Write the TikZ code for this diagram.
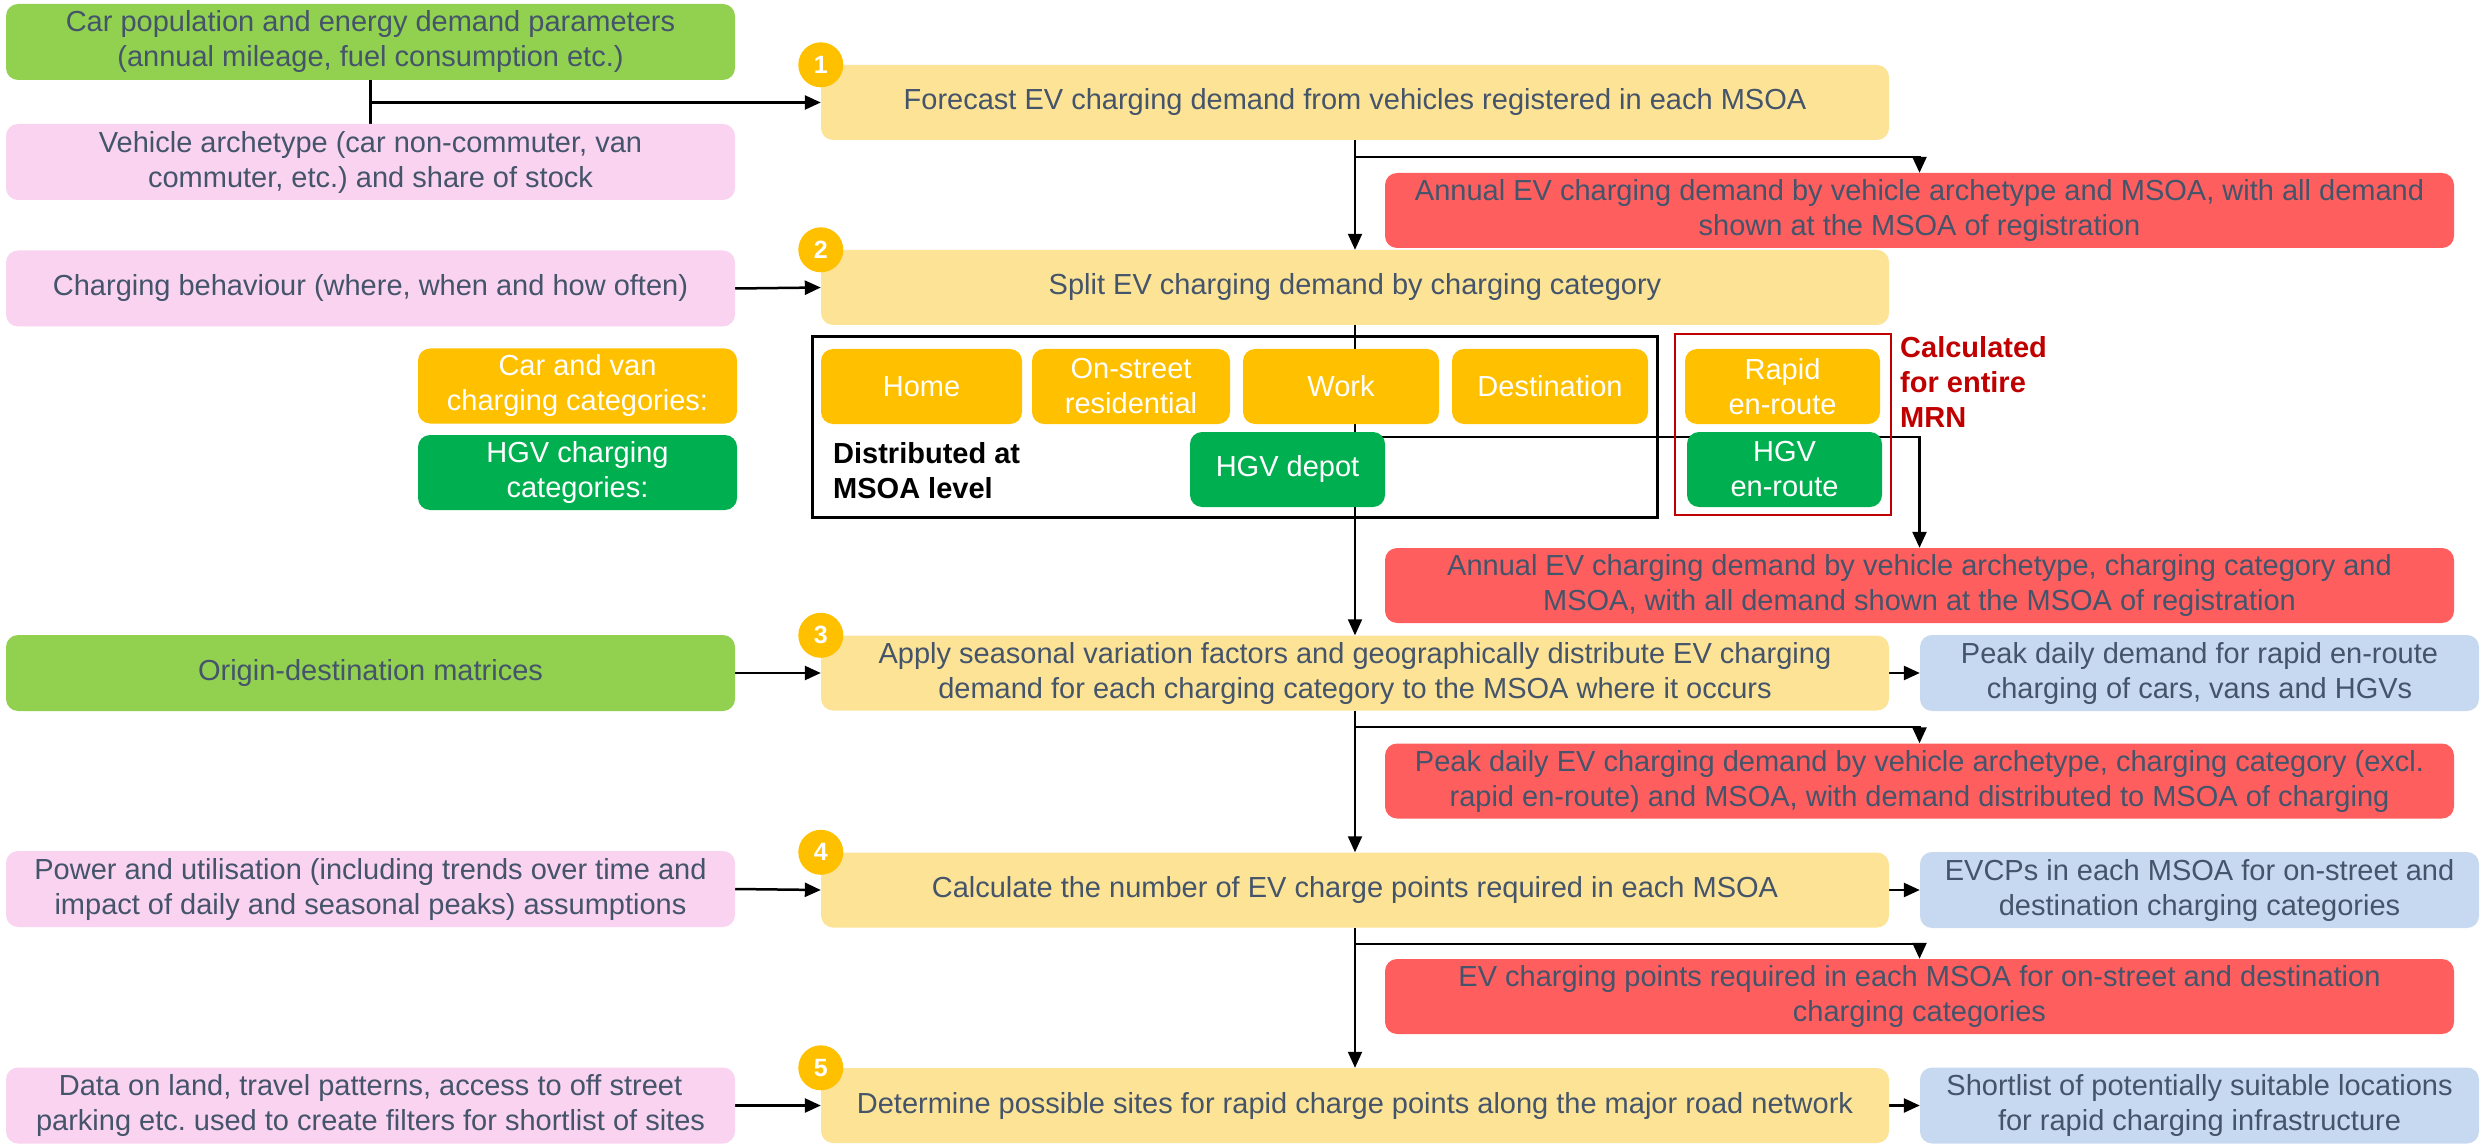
\documentclass[tikz,border=0pt]{standalone}
\usepackage{fontspec}
\setmainfont{Liberation Sans}
\usetikzlibrary{arrows.meta,backgrounds,calc}
\frenchspacing

\definecolor{txt}{HTML}{44546A}
\definecolor{ingreen}{HTML}{92D050}
\definecolor{inpink}{HTML}{F9D3F0}
\definecolor{stepyel}{HTML}{FDE396}
\definecolor{numorange}{HTML}{FFC000}
\definecolor{catorange}{HTML}{FFC000}
\definecolor{hgvgreen}{HTML}{00B050}
\definecolor{outred}{HTML}{FF5E5E}
\definecolor{outblue}{HTML}{C7D9F1}
\definecolor{mrnred}{HTML}{C00000}

\tikzset{
  base/.style={rounded corners=12pt, inner sep=4pt, align=center,
    font=\fontsize{29}{35}\selectfont, text=txt},
  inbox/.style={base, minimum width=729pt, minimum height=76pt},
  stepbox/.style={base, fill=stepyel, minimum width=1068pt, minimum height=75pt},
  redbox/.style={base, fill=outred, minimum width=1069pt, minimum height=75pt},
  bluebox/.style={base, fill=outblue, minimum width=559pt, minimum height=76pt},
  catbox/.style={base, fill=catorange, text=white, minimum height=75pt},
  hgvbox/.style={base, fill=hgvgreen, text=white, minimum height=75pt},
  numc/.style={circle, fill=numorange, minimum size=45pt, inner sep=0pt,
    text=white, font=\fontsize{25}{25}\selectfont\bfseries},
  conn/.style={line width=2.5pt, black},
  arr/.style={conn, -{Triangle[length=16pt,width=14pt]}},
}

\begin{document}
\begin{tikzpicture}[x=1pt,y=-1pt]
\useasboundingbox (0,0) rectangle (2484,1147);

% inputs on the left
\node[inbox, fill=ingreen] (inA) at (370.5,42) {Car population and energy demand parameters\\(annual mileage, fuel consumption etc.)};
\node[inbox, fill=inpink] (inB) at (370.5,162) {Vehicle archetype (car non-commuter, van\\commuter, etc.) and share of stock};
\node[inbox, fill=inpink] (inC) at (370.5,288.5) {Charging behaviour (where, when and how often)};
\node[inbox, fill=ingreen] (inD) at (370.5,673) {Origin-destination matrices};
\node[inbox, fill=inpink] (inE) at (370.5,889) {Power and utilisation (including trends over time and\\impact of daily and seasonal peaks) assumptions};
\node[inbox, fill=inpink] (inF) at (370.5,1105.5) {Data on land, travel patterns, access to off street\\parking etc. used to create filters for shortlist of sites};

% the five steps
\node[stepbox] (s1) at (1355,102.5) {Forecast EV charging demand from vehicles registered in each MSOA};
\node[stepbox] (s2) at (1355,287.5) {Split EV charging demand by charging category};
\node[stepbox] (s3) at (1355,673) {Apply seasonal variation factors and geographically distribute EV charging\\demand for each charging category to the MSOA where it occurs};
\node[stepbox] (s4) at (1355,890) {Calculate the number of EV charge points required in each MSOA};
\node[stepbox] (s5) at (1355,1105.5) {Determine possible sites for rapid charge points along the major road network};

\foreach \i in {1,...,5} {
  \node[numc] (n\i) at (s\i.north west) {\i};
}

% intermediate outputs
\node[redbox] (r1) at (1919.5,210.5) {Annual EV charging demand by vehicle archetype and MSOA, with all demand\\shown at the MSOA of registration};
\node[redbox] (r2) at (1919.5,585.5) {Annual EV charging demand by vehicle archetype, charging category and\\MSOA, with all demand shown at the MSOA of registration};
\node[redbox] (r3) at (1919.5,781) {Peak daily EV charging demand by vehicle archetype, charging category (excl.\\rapid en-route) and MSOA, with demand distributed to MSOA of charging};
\node[redbox] (r4) at (1919.5,996.5) {EV charging points required in each MSOA for on-street and destination\\charging categories};

% final outputs
\node[bluebox] (b3) at (2199.5,673) {Peak daily demand for rapid en-route\\charging of cars, vans and HGVs};
\node[bluebox] (b4) at (2199.5,890) {EVCPs in each MSOA for on-street and\\destination charging categories};
\node[bluebox] (b5) at (2199.5,1105.5) {Shortlist of potentially suitable locations\\for rapid charging infrastructure};

% charging category legend
\node[catbox, minimum width=319pt] (lgA) at (577.5,386) {Car and van\\charging categories:};
\node[hgvbox, minimum width=319pt] (lgB) at (577.5,472.5) {HGV charging\\categories:};

% groups of charging categories
\node[draw=black, line width=3pt, minimum width=845pt, minimum height=180pt, inner sep=0pt] (grpM) at (1234.5,427) {};
\node[draw=mrnred, line width=2.5pt, minimum width=216pt, minimum height=181pt, inner sep=0pt] (grpR) at (1783,424.5) {};

\node[catbox, minimum width=201pt] (cHome) at (921.5,386.5) {Home};
\node[catbox, minimum width=198pt] (cStreet) at (1131,386.5) {On-street\\residential};
\node[catbox, minimum width=196pt] (cWork) at (1341,386.5) {Work};
\node[catbox, minimum width=196pt] (cDest) at (1550,386.5) {Destination};
\node[catbox, minimum width=195pt] (cRapid) at (1782.5,386.5) {Rapid\\en-route};
\node[hgvbox, minimum width=195pt] (hDepot) at (1287.5,469.5) {HGV depot};
\node[hgvbox, minimum width=195pt] (hRoute) at (1784.5,469.5) {HGV\\en-route};

\node[anchor=west, align=left, inner sep=0pt, font=\fontsize{29}{35}\selectfont\bfseries] (lblM) at (833,470.5) {Distributed at\\MSOA level};
\node[anchor=west, align=left, inner sep=0pt, text=mrnred, font=\fontsize{29}{35}\selectfont\bfseries] (lblR) at (1900,382) {Calculated\\for entire\\MRN};

% connectors, behind the boxes
\begin{scope}[on background layer]
  \coordinate (jA) at (inA.south |- s1.west);
  \draw[conn] (inA.south) -- (inB.north);
  \draw[arr] (jA) -- (s1.west);
  \draw[arr] (inC.east) -- (s2.west);
  \draw[arr] (inD.east) -- (s3.west);
  \draw[arr] (inE.east) -- (s4.west);
  \draw[arr] (inF.east) -- (s5.west);

  \draw[arr, line width=2pt] (s1.south) -- (s2.north);
  \draw[arr, line width=2pt] (s2.south) -- (s3.north);
  \draw[arr, line width=2pt] (s3.south) -- (s4.north);
  \draw[arr, line width=2pt] (s4.south) -- (s5.north);

  \coordinate (j1) at (1355,157);
  \coordinate (j2) at (1355,437);
  \coordinate (j3) at (1355,727);
  \coordinate (j4) at (1355,944);
  \draw[arr] (j1) -| (r1.north);
  \draw[arr] (j2) -| (r2.north);
  \draw[arr] (j3) -| (r3.north);
  \draw[arr] (j4) -| (r4.north);

  \draw[arr] (s3.east) -- (b3.west);
  \draw[arr] (s4.east) -- (b4.west);
  \draw[arr] (s5.east) -- (b5.west);
\end{scope}
\end{tikzpicture}
\end{document}
